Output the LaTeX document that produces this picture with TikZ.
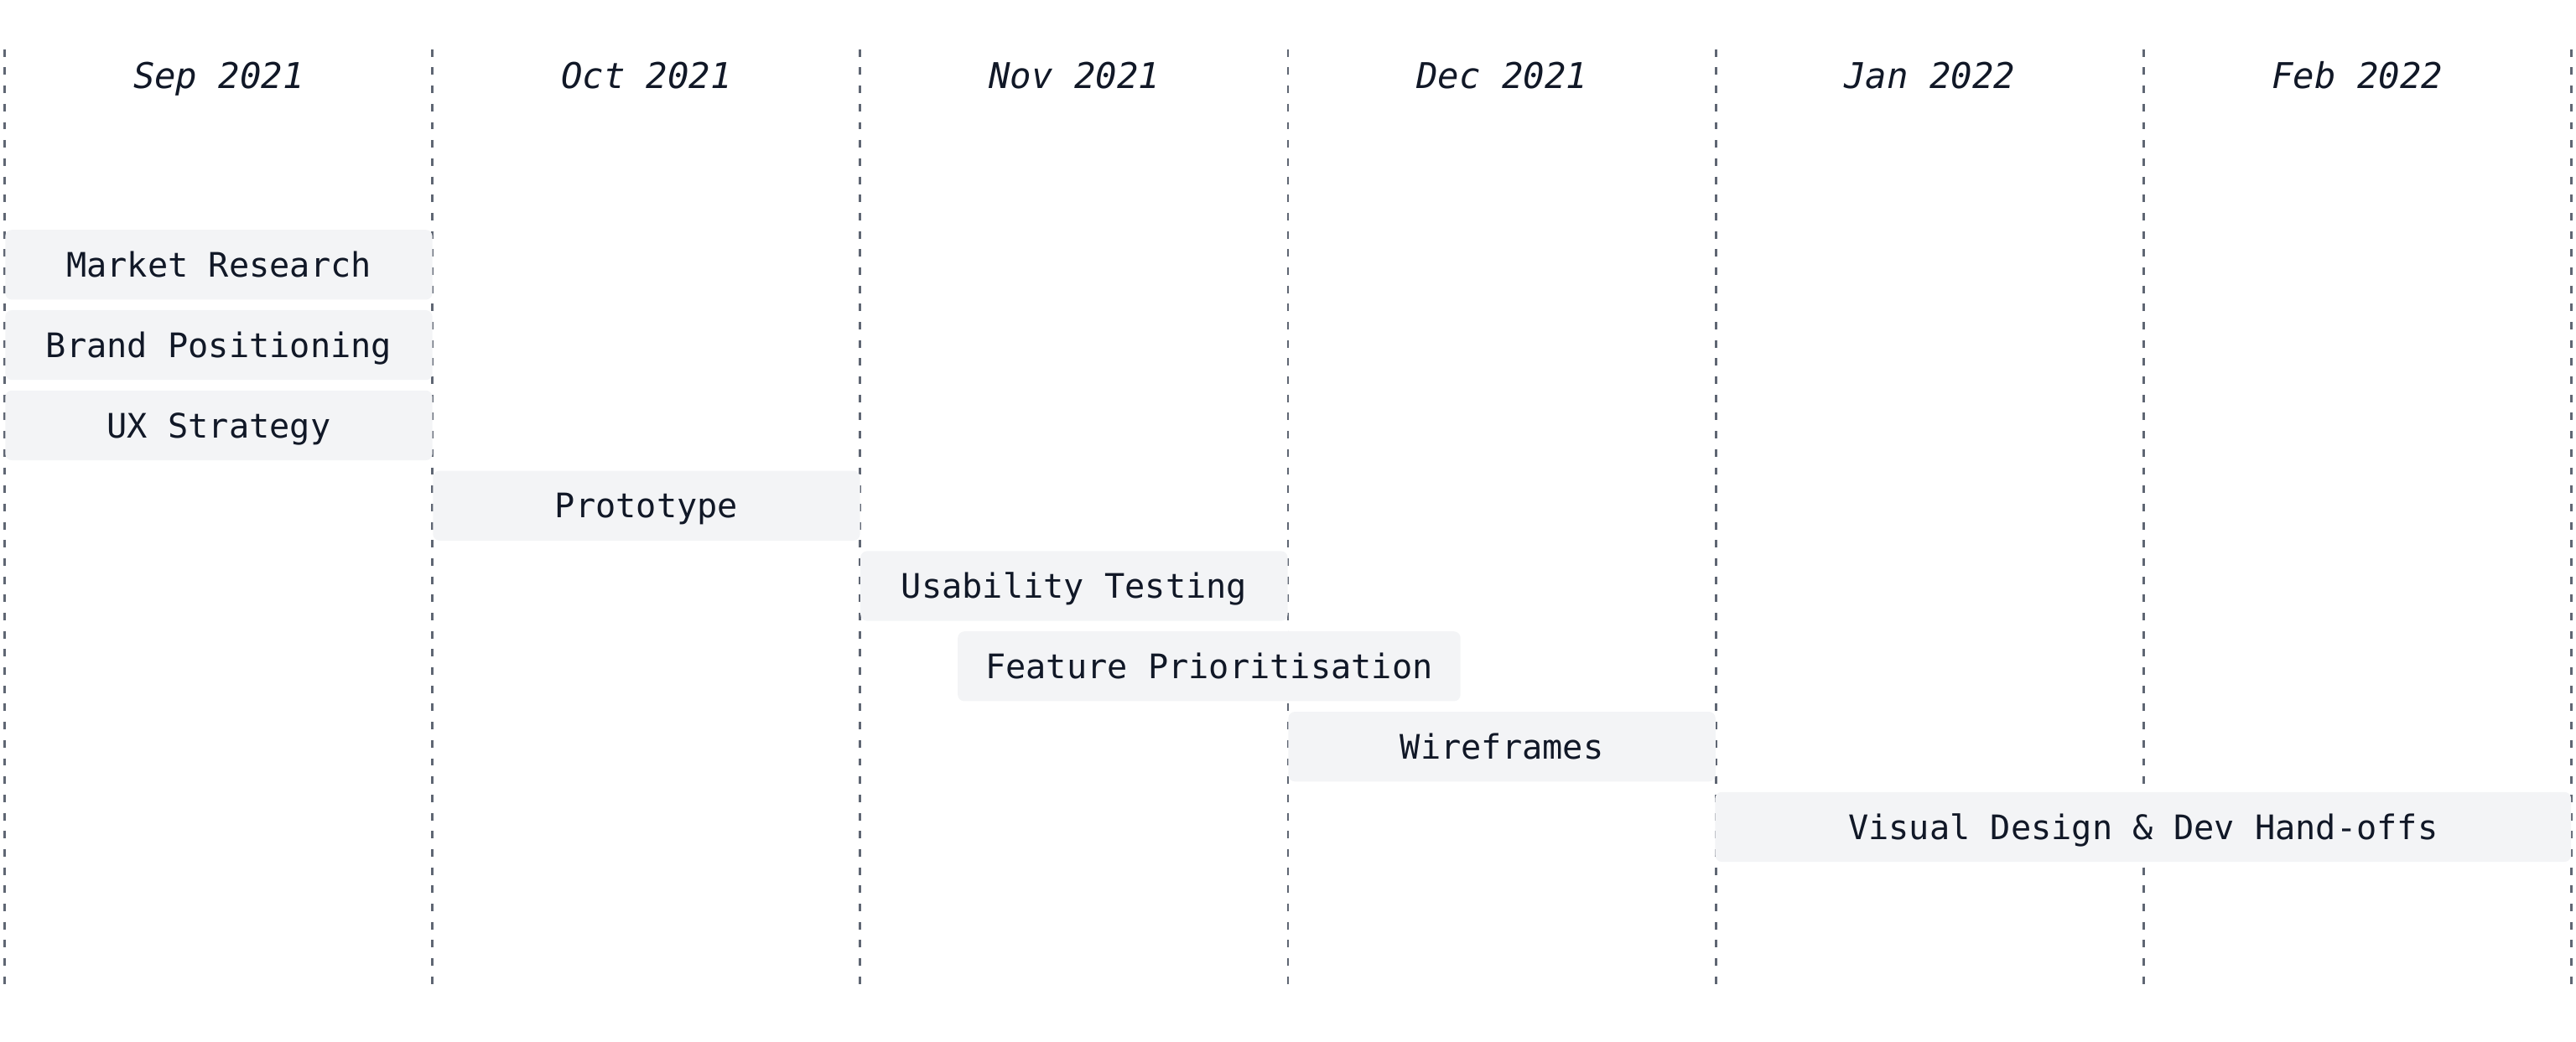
\documentclass[tikz,border=0pt]{standalone}
\usepackage{fontspec}
\setmonofont{DejaVu Sans Mono}
\definecolor{barfill}{HTML}{F3F4F6}
\definecolor{gridline}{HTML}{5F6673}
\definecolor{ink}{HTML}{111827}

\begin{document}
\begin{tikzpicture}[x=0.02cm,y=-0.02cm,
  month/.style={text=ink, inner sep=0pt, text height=9pt, text depth=0pt,
    font=\ttfamily\itshape\fontsize{12.3}{14}\selectfont},
  task/.style={rectangle, rounded corners=0.08cm, fill=barfill, text=ink, inner sep=0pt,
    minimum height=0.85cm, text height=8.5pt, text depth=0pt,
    font=\ttfamily\fontsize{11.7}{14}\selectfont}]

\useasboundingbox (0,0) rectangle (1568,634);

\foreach \i in {0,...,6}{
    \draw[gridline, line width=0.85pt, dash pattern=on 2.6pt off 3.7pt] (3+260.33*\i,30) -- (3+260.33*\i,603); % column separators
}

\foreach \i/\mon in {0/Sep 2021, 1/Oct 2021, 2/Nov 2021, 3/Dec 2021, 4/Jan 2022, 5/Feb 2022}{
    \node[month] (m\i) at (133.2+260.33*\i,46) {\mon};
}

% the bars go over the separators:
\foreach \nm/\cx/\w/\r/\txt in {market/133.2/260/0/Market Research,
    brand/133.2/260/1/Brand Positioning,
    ux/133.2/260/2/UX Strategy,
    proto/393.5/260/3/Prototype,
    usab/653.8/260/4/Usability Testing,
    feature/736/306/5/Feature Prioritisation,
    wire/914.2/260/6/Wireframes,
    visual/1304.5/521/7/Visual Design \& Dev Hand-offs}{
    \node[task, minimum width=\w*0.02cm] (\nm) at (\cx,161.2+48.9*\r) {\txt};
}

\end{tikzpicture}
\end{document}
